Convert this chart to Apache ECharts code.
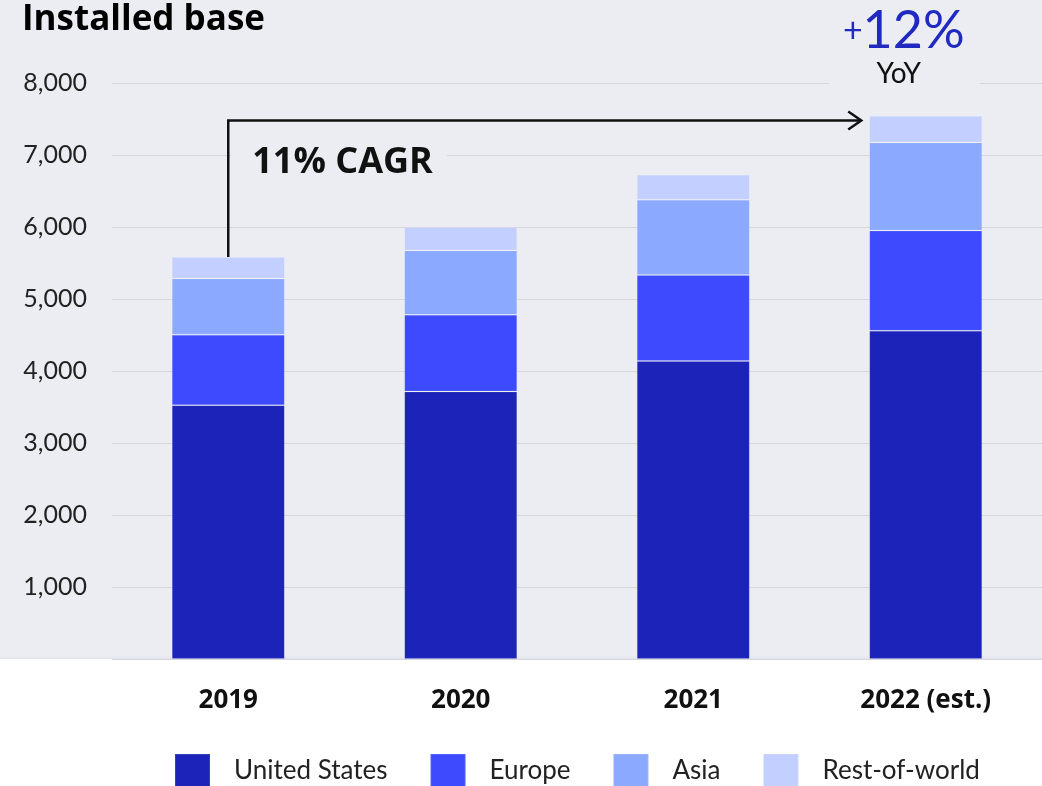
<!DOCTYPE html>
<html>
<head>
<meta charset="utf-8">
<script src="https://cdn.jsdelivr.net/npm/echarts@6/dist/echarts.min.js"></script>
<style>
  html, body { margin: 0; padding: 0; background: #fff; }
  #chart {
    width: 1042px;
    height: 786px;
    background: linear-gradient(#ecedf2 0, #ecedf2 656px, #e3e4e9 659px, #ffffff 659px);
  }
</style>
</head>
<body>
<div id="chart"></div>
<script>
const years = ['2019', '2020', '2021', '2022 (est.)']
const unitedStates = [3525, 3715, 4140, 4560]
const europe = [980, 1065, 1195, 1390]
const asia = [780, 895, 1045, 1225]
const restOfWorld = [300, 320, 345, 370]
const yTicks = [0, 1000, 2000, 3000, 4000, 5000, 6000, 7000, 8000]

// annotation texts
const cagrLabel = '11% CAGR'
const yoyValue = '12%'
const arrowLevel = 7480   // value level the CAGR arrow runs along

const font = 'Lato, "Noto Sans", sans-serif'
const wideFont = '"Open Sans", Lato, sans-serif'
const bg = '#ecedf2'
const colors = ['#1b23b8', '#3d4afe', '#8aa9ff', '#c2cfff']

const chart = echarts.init(document.getElementById('chart'))

const barStyle = (color) => ({
  color: color,
  borderColor: 'rgba(255,255,255,0.12)',
  borderWidth: 1
})

const series = [
  { name: 'United States', data: unitedStates },
  { name: 'Europe', data: europe },
  { name: 'Asia', data: asia },
  { name: 'Rest-of-world', data: restOfWorld }
].map((s, i) => ({
  name: s.name,
  type: 'bar',
  stack: 'total',
  barWidth: 113,
  data: s.data,
  itemStyle: barStyle(colors[i]),
  emphasis: { disabled: true }
}))

chart.setOption({
  backgroundColor: 'transparent',
  animation: false,
  textStyle: { fontFamily: font },
  title: {
    text: 'Installed base',
    left: 17,
    top: -2,
    textStyle: { fontSize: 35, fontWeight: 'bold', color: '#000', fontFamily: wideFont }
  },
  legend: {
    data: series.map(s => s.name),
    left: 169,
    top: 748,
    icon: 'rect',
    itemWidth: 35,
    itemHeight: 34,
    itemGap: 42,
    textStyle: { fontSize: 26, color: '#222', padding: [0, 0, 0, 19], fontFamily: font }
  },
  grid: { left: 112, right: 0, top: 83, bottom: 127 },
  xAxis: {
    type: 'category',
    data: years,
    axisLine: { show: false },
    axisTick: { show: false },
    axisLabel: { fontSize: 26, fontWeight: 'bold', color: '#111', margin: 29, fontFamily: wideFont }
  },
  yAxis: {
    type: 'value',
    min: yTicks[0],
    max: yTicks[yTicks.length - 1],
    interval: yTicks[1] - yTicks[0],
    axisLine: { show: false },
    axisTick: { show: false },
    axisLabel: {
      fontSize: 25,
      color: '#222',
      margin: 25,
      fontFamily: font,
      formatter: v => v === 0 ? '' : v.toLocaleString('en-US')
    },
    splitLine: { lineStyle: { color: '#d6d7dc', width: 1 } }
  },
  series: series
})

// annotations placed from the axes
const totals = years.map((_, i) => unitedStates[i] + europe[i] + asia[i] + restOfWorld[i])
const start = chart.convertToPixel({ gridIndex: 0 }, [0, totals[0]])
const lastBar = chart.convertToPixel({ gridIndex: 0 }, [years.length - 1, totals[years.length - 1]])
const yArrow = chart.convertToPixel({ gridIndex: 0 }, [0, arrowLevel])[1]
const xEnd = lastBar[0] - 113 / 2 - 8
const yTop = chart.convertToPixel({ gridIndex: 0 }, [0, yTicks[yTicks.length - 1]])[1]

chart.setOption({
  graphic: [
    {
      type: 'polyline',
      z: 10,
      shape: { points: [[start[0], start[1]], [start[0], yArrow], [xEnd, yArrow]] },
      style: { stroke: '#111', lineWidth: 2.5, fill: null }
    },
    {
      type: 'polyline',
      z: 10,
      shape: { points: [[xEnd - 13, yArrow - 9], [xEnd, yArrow], [xEnd - 13, yArrow + 9]] },
      style: { stroke: '#111', lineWidth: 2.5, fill: null }
    },
    {
      type: 'text',
      z: 10,
      x: start[0] + 3,
      y: yArrow + 42,
      style: {
        text: cagrLabel,
        font: 'bold 36px ' + wideFont,
        fill: '#111',
        verticalAlign: 'middle',
        backgroundColor: bg,
        padding: [2, 14, 2, 21]
      }
    },
    {
      // gap in the top gridline behind the YoY note
      type: 'rect',
      z: 9,
      shape: { x: lastBar[0] - 97, y: yTop - 20, width: 151, height: 26 },
      style: { fill: bg }
    },
    {
      type: 'text',
      z: 10,
      x: lastBar[0] - 22,
      y: yTop - 28,
      style: {
        text: '{p|+}{n|' + yoyValue + '}',
        align: 'center',
        verticalAlign: 'bottom',
        rich: {
          p: { fontSize: 34, fontFamily: font, fill: '#2029c0', verticalAlign: 'middle' },
          n: { fontSize: 52, fontFamily: font, fill: '#2029c0', lineHeight: 48 }
        }
      }
    },
    {
      type: 'text',
      z: 10,
      x: lastBar[0] - 27,
      y: yTop - 9,
      style: {
        text: 'YoY',
        font: '28px ' + font,
        fill: '#111',
        align: 'center',
        verticalAlign: 'middle'
      }
    }
  ]
})
</script>
</body>
</html>
